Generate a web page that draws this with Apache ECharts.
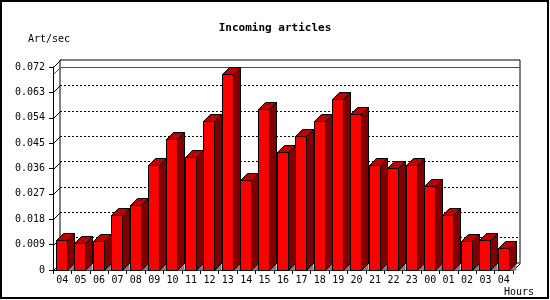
<!DOCTYPE html>
<html><head><meta charset="utf-8">
<script src="https://cdn.jsdelivr.net/npm/echarts@6/dist/echarts.min.js"></script>
<style>html,body{margin:0;padding:0;background:#fff}#c{width:550px;height:300px}</style>
</head><body><div id="c"></div>
<script>
const hours = ['04','05','06','07','08','09','10','11','12','13','14','15','16','17','18','19','20','21','22','23','00','01','02','03','04'];
const rates = [0.0106,0.0096,0.0103,0.0195,0.0230,0.0371,0.0465,0.0400,0.0527,0.0694,0.0318,0.0570,0.0417,0.0474,0.0527,0.0605,0.0552,0.0371,0.0361,0.0371,0.0298,0.0194,0.0103,0.0105,0.0077];
const yTicks = [0,0.009,0.018,0.027,0.036,0.045,0.054,0.063,0.072];
const titleText = 'Incoming articles';
const yUnit = 'Art/sec';
const xUnit = 'Hours';

const maxRate = Math.max(...rates);
const FONT = 'DejaVu Sans Mono';
const D = 7;
const px = v => Math.round(v) + 0.5;
const chart = echarts.init(document.getElementById('c'), null, {renderer: 'canvas'});

const bars = rates.map((v, i) => [i, v]);

chart.setOption({
  animation: false,
  backgroundColor: '#fff',
  grid: [
    {left: 53, top: 67, right: 37, bottom: 30, show: false},
    {left: 60, top: 60, right: 30, bottom: 37, show: true, borderColor: '#000', borderWidth: 1, backgroundColor: 'transparent'}
  ],
  xAxis: [
    {type: 'category', gridIndex: 0, data: hours, boundaryGap: true,
     axisLine: {show: true, lineStyle: {color: '#000', width: 1}},
     axisTick: {show: true, length: 4, alignWithLabel: false, lineStyle: {color: '#000'}},
     axisLabel: {color: '#000', fontFamily: FONT, fontSize: 10, margin: 5, interval: 0},
     splitLine: {show: false}},
    {type: 'category', gridIndex: 1, data: hours, show: false}
  ],
  yAxis: [
    {type: 'value', gridIndex: 0, min: 0, max: 0.072, interval: 0.009,
     axisLine: {show: true, lineStyle: {color: '#000', width: 1}},
     axisTick: {show: true, length: 4, lineStyle: {color: '#000'}},
     axisLabel: {color: '#000', fontFamily: FONT, fontSize: 10, margin: 8,
       formatter: v => v === 0 ? '0' : v.toFixed(3)},
     splitLine: {show: false}},
    {type: 'value', gridIndex: 1, min: 0, max: 0.072, interval: 0.009,
     axisLine: {show: false}, axisTick: {show: false}, axisLabel: {show: false},
     splitLine: {show: true, showMinLine: false, showMaxLine: false, lineStyle: {color: '#000', width: 1, type: [2, 2]}}}
  ],
  graphic: [
    {type: 'rect', shape: {x: 1, y: 1, width: 547, height: 297}, style: {fill: 'none', stroke: '#000', lineWidth: 2}, z: 100},
    {type: 'text', x: 275, y: 28, style: {text: titleText, fontFamily: FONT, fontWeight: 'bold', fontSize: 11, fill: '#000', textAlign: 'center', textVerticalAlign: 'middle'}},
    {type: 'text', x: 28, y: 39, style: {text: yUnit, fontFamily: FONT, fontSize: 10, fill: '#000', textAlign: 'left', textVerticalAlign: 'middle'}},
    {type: 'text', x: 504, y: 292, style: {text: xUnit, fontFamily: FONT, fontSize: 10, fill: '#000', textAlign: 'left', textVerticalAlign: 'middle'}}
  ],
  series: [
    {
      name: 'slants', type: 'custom', xAxisIndex: 0, yAxisIndex: 0, z: 3, silent: true,
      data: yTicks.map(v => [0, v]),
      renderItem: (params, api) => {
        const p = api.coord([0, api.value(1)]);
        const band = api.size([1, 0])[0];
        const lx = px(p[0] - band / 2), y = px(p[1]);
        return {type: 'line', shape: {x1: lx, y1: y, x2: lx + D, y2: y - D}, style: {stroke: '#000', lineWidth: 1}};
      }
    },
    {
      name: 'floorEdge', type: 'custom', xAxisIndex: 0, yAxisIndex: 0, z: 3, silent: true,
      data: [[hours.length - 1, 0]],
      renderItem: (params, api) => {
        const p = api.coord([api.value(0), 0]);
        const band = api.size([1, 0])[0];
        const rx = px(p[0] + band / 2), y = px(p[1]);
        return {type: 'line', shape: {x1: rx, y1: y, x2: rx + D, y2: y - D}, style: {stroke: '#000', lineWidth: 1}};
      }
    },
    {
      name: 'maxLine', type: 'custom', xAxisIndex: 0, yAxisIndex: 0, z: 4, silent: true,
      data: [[0, maxRate]],
      renderItem: (params, api) => {
        const p = api.coord([0, api.value(1)]);
        const band = api.size([1, 0])[0];
        const cs = params.coordSys;
        const lx = px(p[0] - band / 2), y = px(p[1]);
        const rx = Math.round(cs.x + cs.width) + D;
        return {type: 'group', children: [
          {type: 'line', shape: {x1: lx, y1: y, x2: lx + D, y2: y - D}, style: {stroke: '#ff0000', lineWidth: 1}},
          {type: 'line', shape: {x1: lx + D, y1: y - D, x2: rx, y2: y - D}, style: {stroke: '#ff0000', lineWidth: 1}}
        ]};
      }
    },
    {
      name: 'Incoming', type: 'custom', xAxisIndex: 0, yAxisIndex: 0, z: 10,
      data: bars,
      renderItem: (params, api) => {
        const i = api.value(0), v = api.value(1);
        const top = api.coord([i, v]);
        const base = api.coord([i, 0]);
        const band = api.size([1, 0])[0];
        const x0 = px(top[0] - band / 2 + 3);
        const w = 11;
        const x1 = x0 + w;
        const yT = px(top[1]), yB = px(base[1]);
        return {type: 'group', children: [
          {type: 'polygon', shape: {points: [[x1, yB], [x1 + D, yB - D], [x1 + D, yB]]}, style: {fill: '#808080', stroke: null}},
          {type: 'polygon', shape: {points: [[x1, yT], [x1 + D, yT - D], [x1 + D, yB - D], [x1, yB]]}, style: {fill: '#800000', stroke: '#000', lineWidth: 1}},
          {type: 'polygon', shape: {points: [[x0, yT], [x0 + D, yT - D], [x1 + D, yT - D], [x1, yT]]}, style: {fill: '#c00000', stroke: '#000', lineWidth: 1}},
          {type: 'rect', shape: {x: x0, y: yT, width: w, height: yB - yT}, style: {fill: '#ff0000', stroke: '#000', lineWidth: 1}}
        ]};
      }
    }
  ]
});
</script></body></html>
